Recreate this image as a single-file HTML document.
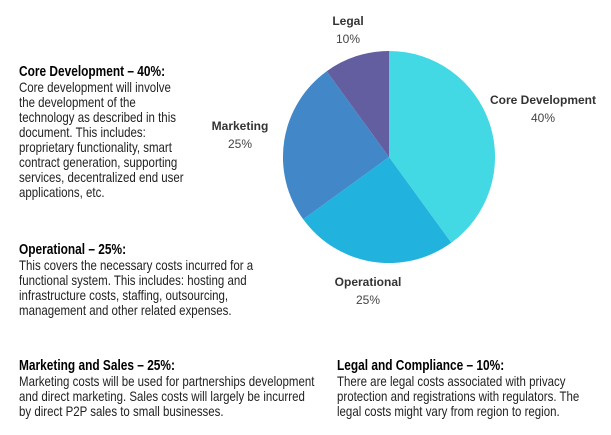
<!DOCTYPE html>
<html><head><style>
body{margin:0;width:611px;height:435px;background:#fff;position:relative;overflow:hidden;font-family:"Liberation Sans",sans-serif;color:#111}
.b{position:absolute;font-size:14px;line-height:15px;color:#222;white-space:nowrap;transform:scaleX(0.82);transform-origin:0 0}
.b b{font-size:14.5px;color:#000;font-weight:bold}
.l{position:absolute;font-family:"Liberation Sans",sans-serif;font-size:12px;text-align:center;color:#444;line-height:18px}
.l b{color:#333}
</style></head><body>
<div class="b" style="left:19px;top:64px"><b>Core Development – 40%:</b><br>Core development will involve<br>the development of the<br>technology as described in this<br>document. This includes:<br>proprietary functionality, smart<br>contract generation, supporting<br>services, decentralized end user<br>applications, etc.</div>
<div class="b" style="left:19px;top:242px"><b>Operational – 25%:</b><br>This covers the necessary costs incurred for a<br>functional system. This includes: hosting and<br>infrastructure costs, staffing, outsourcing,<br>management and other related expenses.</div>
<div class="b" style="left:19px;top:358px"><b>Marketing and Sales – 25%:</b><br>Marketing costs will be used for partnerships development<br>and direct marketing. Sales costs will largely be incurred<br>by direct P2P sales to small businesses.</div>
<div class="b" style="left:337px;top:358px"><b>Legal and Compliance – 10%:</b><br>There are legal costs associated with privacy<br>protection and registrations with regulators. The<br>legal costs might vary from region to region.</div>
<svg style="position:absolute;left:0;top:0" width="611" height="435">
<path d="M389,157 L389,51 A106,106 0 0 1 451.3,242.8 Z" fill="#42d8e4"/>
<path d="M389,157 L451.3,242.8 A106,106 0 0 1 303.2,219.3 Z" fill="#22b2de"/>
<path d="M389,157 L303.2,219.3 A106,106 0 0 1 326.7,71.2 Z" fill="#4287c8"/>
<path d="M389,157 L326.7,71.2 A106,106 0 0 1 389,51 Z" fill="#625ea0"/>
</svg>
<div class="l" style="left:318px;top:12px;width:60px"><b>Legal</b><br>10%</div>
<div class="l" style="left:200px;top:117px;width:80px"><b>Marketing</b><br>25%</div>
<div class="l" style="left:478px;top:91px;width:130px"><b>Core Development</b><br>40%</div>
<div class="l" style="left:318px;top:273px;width:100px"><b>Operational</b><br>25%</div>
</body></html>
